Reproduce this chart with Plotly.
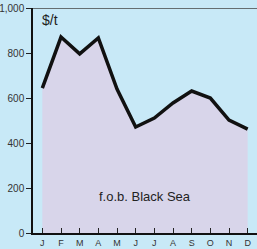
import plotly.graph_objects as go

months = ["J", "F", "M", "A", "M", "J", "J", "A", "S", "O", "N", "D"]
prices = [644, 871, 796, 867, 640, 471, 511, 578, 631, 600, 502, 462]
y_ticks = [0, 200, 400, 600, 800, 1000]
y_labels = ["0", "200", "400", "600", "800", "1,000"]

x = list(range(len(months)))

fig = go.Figure()
fig.add_trace(go.Scatter(
    x=x, y=prices, mode="lines", fill="tozeroy",
    fillcolor="#d8d5ea", line=dict(color="#111111", width=3.5),
    hoverinfo="skip",
))

fig.update_layout(
    width=257, height=249,
    margin=dict(l=33, r=0, t=8, b=16, pad=0),
    paper_bgcolor="#c8e9f7", plot_bgcolor="#c8e9f7",
    showlegend=False,
    font=dict(family="Liberation Sans", color="#333333"),
    xaxis=dict(
        range=[-0.5, 11.5], tickmode="array", tickvals=x, ticktext=months,
        tickson="boundaries", ticks="inside", ticklen=5, tickcolor="#222222",
        showline=True, linecolor="#111111", linewidth=1.5,
        showgrid=False, zeroline=False, automargin=False,
        tickfont=dict(size=9, color="#333333"),
    ),
    yaxis=dict(
        range=[0, 1000], tickmode="array", tickvals=y_ticks, ticktext=y_labels,
        ticks="outside", ticklen=5, tickcolor="#222222",
        showline=True, linecolor="#111111", linewidth=1.5,
        showgrid=False, zeroline=False, automargin=False,
        tickfont=dict(size=10, color="#333333"),
    ),
    shapes=[dict(type="line", xref="paper", yref="y", x0=0, x1=1, y0=1000, y1=1000,
                 line=dict(color="#444444", width=1.5))],
    annotations=[
        dict(text="$/t", xref="paper", yref="paper", x=0.03, y=0.947,
             xanchor="left", yanchor="middle", showarrow=False,
             font=dict(size=14, color="#222222")),
        dict(text="f.o.b. Black Sea", xref="paper", yref="paper", x=0.5, y=0.164,
             xanchor="center", yanchor="middle", showarrow=False,
             font=dict(size=13, color="#222222")),
    ],
)

fig.write_html(
    "out.html",
    config={"displayModeBar": False},
    post_script="document.body.style.margin='0';document.body.style.overflow='hidden';",
)
